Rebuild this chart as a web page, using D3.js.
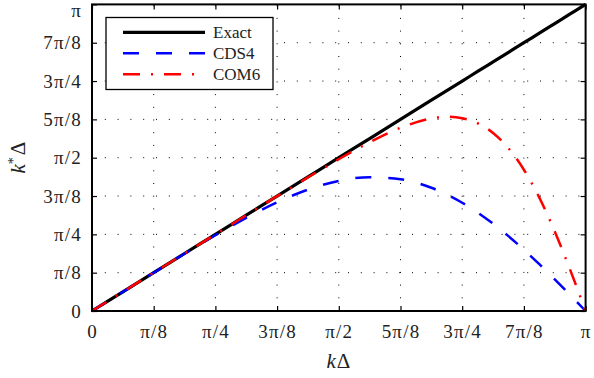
<!DOCTYPE html>
<html>
<head>
<meta charset="utf-8">
<script src="https://cdn.jsdelivr.net/npm/d3@7"></script>
<style>
  body { margin: 0; background: #fff; }
</style>
</head>
<body>
<div id="chart"></div>
<script>
// kΔ in units of π/8
var kd = [0, 0.5, 1, 1.5, 2, 2.5, 3, 3.5, 4, 4.5, 5, 5.5, 5.75, 6, 6.25, 6.5, 6.75, 7, 7.25, 7.5, 7.75, 8];
// k*Δ in units of π/8
var exact = [0, 0.5, 1, 1.5, 2, 2.5, 3, 3.5, 4, 4.5, 5, 5.5, 5.75, 6, 6.25, 6.5, 6.75, 7, 7.25, 7.5, 7.75, 8];
var cds4 = [0, 0.500, 0.999, 1.494, 1.977, 2.431, 2.837, 3.168, 3.395, 3.493, 3.437, 3.215, 3.041, 2.825, 2.570, 2.278, 1.953, 1.599, 1.221, 0.825, 0.416, 0];
var com6 = [0, 0.500, 1.000, 1.500, 2.000, 2.499, 2.996, 3.486, 3.961, 4.404, 4.779, 5.024, 5.070, 5.031, 4.899, 4.645, 4.246, 3.686, 2.959, 2.076, 1.072, 0];
var tickVals = [0, 1, 2, 3, 4, 5, 6, 7, 8];
var tickLabels = ["0", "π/8", "π/4", "3π/8", "π/2", "5π/8", "3π/4", "7π/8", "π"];
var seriesNames = ["Exact", "CDS4", "COM6"];

(function() {
    var width = 594, height = 378;
    var left = 92, right = 585.6, top = 4.4, bottom = 311;
    var serif = '"Liberation Serif", serif';

    var svg = d3.select('#chart').append('svg')
        .attr('width', width)
        .attr('height', height)
        .style('font-family', serif);

    var x = d3.scaleLinear().domain([0, 8]).range([left, right]);
    var y = d3.scaleLinear().domain([0, 8]).range([bottom, top]);

    // dotted grid
    var grid = svg.append('g');
    grid.selectAll('line.vg')
        .data(tickVals.slice(1, -1))
        .join('line')
            .attr('x1', d => x(d)).attr('x2', d => x(d))
            .attr('y1', bottom).attr('y2', top)
            .attr('stroke', '#000').attr('stroke-width', 1)
            .attr('stroke-dasharray', '1,11.7');
    grid.selectAll('line.hg')
        .data(tickVals.slice(1, -1))
        .join('line')
            .attr('y1', d => y(d)).attr('y2', d => y(d))
            .attr('x1', left).attr('x2', right)
            .attr('stroke', '#000').attr('stroke-width', 1)
            .attr('stroke-dasharray', '1,11.8');

    // curves
    var line = d3.line()
        .x((d, i) => x(kd[i]))
        .y(d => y(d))
        .curve(d3.curveMonotoneX);

    var styles = [
        {data: exact, color: '#000', width: 3.2, dash: null},
        {data: cds4, color: '#0000ff', width: 2.5, dash: '16,17'},
        {data: com6, color: '#ff0000', width: 2.5, dash: '17,11,2,11'}
    ];

    svg.append('g')
        .selectAll('path')
        .data(styles)
        .join('path')
            .attr('d', d => line(d.data))
            .attr('fill', 'none')
            .attr('stroke', d => d.color)
            .attr('stroke-width', d => d.width)
            .attr('stroke-dasharray', d => d.dash);

    // axes with inward ticks, box all round
    function styleAxis(g) {
        g.attr('font-family', null).attr('font-size', null);
        g.select('.domain').remove();
        g.selectAll('.tick line').attr('stroke', '#000').attr('stroke-width', 1.2);
        g.selectAll('.tick text')
            .style('font-family', serif)
            .style('font-size', '19px')
            .style('letter-spacing', '1.2px')
            .attr('fill', '#222');
    }

    svg.append('g')
        .attr('transform', `translate(0, ${bottom})`)
        .call(d3.axisBottom(x).tickValues(tickVals).tickFormat((d, i) => tickLabels[i])
            .tickSizeInner(-5).tickSizeOuter(0).tickPadding(14))
        .call(styleAxis);

    svg.append('g')
        .attr('transform', `translate(0, ${top})`)
        .call(d3.axisTop(x).tickValues(tickVals).tickFormat('').tickSizeInner(-5).tickSizeOuter(0))
        .call(styleAxis);

    var yAxisG = svg.append('g')
        .attr('transform', `translate(${left}, 0)`)
        .call(d3.axisLeft(y).tickValues(tickVals).tickFormat((d, i) => tickLabels[i])
            .tickSizeInner(-5).tickSizeOuter(0).tickPadding(10))
        .call(styleAxis);
    // the top label sits on the edge of the page, nudge it in
    yAxisG.selectAll('.tick text').filter(d => d === 8).attr('dy', '0.66em');

    svg.append('g')
        .attr('transform', `translate(${right}, 0)`)
        .call(d3.axisRight(y).tickValues(tickVals).tickFormat('').tickSizeInner(-5).tickSizeOuter(0))
        .call(styleAxis);

    svg.append('rect')
        .attr('x', left).attr('y', top)
        .attr('width', right - left).attr('height', bottom - top)
        .attr('fill', 'none').attr('stroke', '#000').attr('stroke-width', 2);

    // axis labels
    var xl = svg.append('text')
        .attr('x', (left + right) / 2)
        .attr('y', 368)
        .attr('text-anchor', 'middle')
        .style('font-family', serif)
        .style('font-size', '21px')
        .style('letter-spacing', '1px')
        .attr('fill', '#222');
    xl.append('tspan').attr('font-style', 'italic').text('k');
    xl.append('tspan').text('Δ');

    var yl = svg.append('text')
        .attr('transform', `translate(25, ${(top + bottom) / 2}) rotate(-90)`)
        .attr('text-anchor', 'middle')
        .style('font-family', serif)
        .style('font-size', '21px')
        .attr('fill', '#222');
    yl.append('tspan').attr('font-style', 'italic').text('k');
    yl.append('tspan').style('font-size', '14px').attr('dy', -7).text('*');
    yl.append('tspan').attr('dy', 7).attr('dx', 2).text('Δ');

    // legend
    var legend = svg.append('g');
    legend.append('rect')
        .attr('x', 106).attr('y', 17.5)
        .attr('width', 167).attr('height', 72)
        .attr('fill', '#fff').attr('stroke', '#000').attr('stroke-width', 1.3);

    var rows = legend.selectAll('g.row')
        .data(styles)
        .join('g')
            .attr('transform', (d, i) => `translate(0, ${32.3 + i * 21})`);
    rows.append('line')
        .attr('x1', 123).attr('x2', 205)
        .attr('stroke', d => d.color)
        .attr('stroke-width', d => d.width)
        .attr('stroke-dasharray', d => d.dash);
    rows.append('text')
        .attr('x', 213).attr('y', 6)
        .style('font-family', serif)
        .style('font-size', '17px')
        .attr('fill', '#222')
        .text((d, i) => seriesNames[i]);
})();
</script>
</body>
</html>
